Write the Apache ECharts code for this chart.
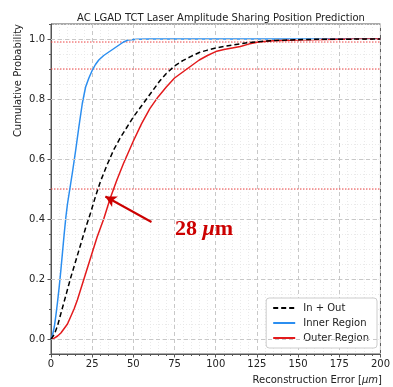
<!DOCTYPE html>
<html><head><meta charset="utf-8">
<script src="https://cdn.jsdelivr.net/npm/echarts@6/dist/echarts.min.js"></script>
<style>html,body{margin:0;padding:0;background:#fff}#c{width:393px;height:387px}</style>
</head><body><div id="c"></div>
<script>
const titleText = 'AC LGAD TCT Laser Amplitude Sharing Position Prediction';
const seriesNames = ['In + Out', 'Inner Region', 'Outer Region'];
const xTicks = [0, 25, 50, 75, 100, 125, 150, 175, 200];
const yTicks = [0, 0.2, 0.4, 0.6, 0.8, 1.0];
const thresholds = [0.5, 0.9, 0.99];

const allX = [0,2,4,6,8,10,12,15,18,21,24,27,30,34,38,42,46,50,54,58,62,66,70,75,80,85,90,95,100,110,120,130,140,160,200];
const allY = [0,0.015,0.045,0.085,0.125,0.165,0.205,0.26,0.315,0.37,0.42,0.475,0.525,0.58,0.63,0.67,0.705,0.74,0.77,0.8,0.83,0.86,0.885,0.91,0.928,0.942,0.955,0.963,0.97,0.98,0.988,0.993,0.996,0.999,1.0];

const innerX = [0,1,2,3,4,5,6,7,8,9,10,11,12,13,15,17,19,21,23,25,27,29,32,36,40,44,47,52,60,80,120,160,200];
const innerY = [0,0.015,0.04,0.08,0.125,0.175,0.23,0.29,0.35,0.405,0.45,0.485,0.52,0.555,0.63,0.71,0.785,0.84,0.87,0.895,0.915,0.93,0.945,0.96,0.975,0.99,0.997,0.999,1.0,1.0,1.0,1.0,1.0];

const outerX = [0,2,4,6,8,10,12,14,16,18,20,22,24,26,28,30,32,34,36,38,40,44,48,50,55,60,65,70,75,80,85,90,95,100,105,110,115,120,126,135,150,175,200];
const outerY = [0,0.003,0.01,0.02,0.035,0.05,0.075,0.1,0.13,0.165,0.2,0.235,0.27,0.305,0.34,0.37,0.4,0.435,0.47,0.5,0.53,0.585,0.635,0.66,0.718,0.768,0.807,0.84,0.87,0.89,0.91,0.93,0.945,0.958,0.965,0.97,0.975,0.983,0.99,0.994,0.997,0.999,1.0];

const annotX = 75, annotY = 0.365;
const arrowFrom = [61, 0.39], arrowTo = [33, 0.475];

const zip = (xs, ys) => xs.map((x, i) => [x, ys[i]]);
const font = 'DejaVu Sans';
const txt = '#222';
const isMajor = v => Math.abs(v / 0.2 - Math.round(v / 0.2)) < 1e-6 && v >= -1e-9;
const gridStyle = {color: '#c8c8c8', type: [4, 3], width: 1};
const thrColor = '#ee4444';

const thrSeries = thresholds.map(v => ({
  name: 'thr' + v, type: 'line', data: [[0, v], [200, v]], z: 2, silent: true,
  showSymbol: false, symbol: 'none', color: thrColor,
  lineStyle: {color: thrColor, type: [1.5, 1.5], width: 1}, emphasis: {disabled: true}
}));

const chart = echarts.init(document.getElementById('c'), null, {renderer: 'canvas'});
chart.setOption({
  animation: false,
  backgroundColor: '#fff',
  textStyle: {fontFamily: font},
  title: {text: titleText, left: 216, top: 8, textAlign: 'center',
    textStyle: {fontFamily: font, fontSize: 10, fontWeight: 'normal', color: txt}},
  grid: {left: 51, right: 11, top: 24, bottom: 33, show: true, borderColor: '#555', borderWidth: 1, backgroundColor: 'transparent'},
  legend: {
    data: seriesNames, orient: 'vertical', right: 16, bottom: 39,
    itemWidth: 22, itemHeight: 10, itemGap: 5, padding: [5, 8, 5, 6],
    itemStyle: {opacity: 0},
    borderColor: '#ccc', borderWidth: 1, borderRadius: 3, backgroundColor: '#fff',
    textStyle: {fontFamily: font, fontSize: 10, color: txt, padding: [0, 0, 0, 3]}
  },
  xAxis: {
    type: 'value', min: 0, max: 200, interval: 25,
    axisLine: {show: true, onZero: false, lineStyle: {color: '#555'}},
    axisTick: {show: true, length: 3.5, lineStyle: {color: '#555'}},
    minorTick: {show: true, splitNumber: 5, length: 2, lineStyle: {color: '#555'}},
    axisLabel: {fontFamily: font, fontSize: 10, color: txt, margin: 5,
      customValues: xTicks},
    splitLine: {show: true, lineStyle: gridStyle},
    minorSplitLine: {show: true, lineStyle: {color: '#e4e4e4', type: [1, 2], width: 0.8}}
  },
  yAxis: [{
    type: 'value', min: -0.05, max: 1.05, interval: 0.05,
    axisLine: {show: true, onZero: false, lineStyle: {color: '#555'}},
    axisTick: {show: true, length: 2, lineStyle: {color: '#555'}},
    axisLabel: {fontFamily: font, fontSize: 10, color: txt, margin: 6,
      formatter: v => isMajor(v) ? v.toFixed(1) : ''},
    splitLine: {show: true, lineStyle: {color: '#e4e4e4', type: [1, 2], width: 0.8}}
  }, {
    type: 'value', min: -0.05, max: 1.05, interval: 0.05, position: 'left',
    axisLine: {show: false},
    axisTick: {show: true, length: 3.5, customValues: yTicks, lineStyle: {color: '#555'}},
    axisLabel: {show: false},
    splitLine: {show: false}
  }],
  graphic: [
    {type: 'text', x: 18, y: 24, rotation: Math.PI / 2,
      style: {text: 'Cumulative Probability', font: '10px "DejaVu Sans"', fill: txt, align: 'right', verticalAlign: 'middle'}},
    {type: 'text', x: 382, y: 380,
      style: {text: '{n|Reconstruction Error [}{i|μm}{n|]}', align: 'right', verticalAlign: 'middle',
        rich: {n: {fontFamily: font, fontSize: 10, fill: txt, color: txt},
               i: {fontFamily: font, fontSize: 10, fontStyle: 'italic', fill: txt, color: txt}}}}
  ],
  series: [
    {name: 'grid', type: 'line', data: [], z: 1, silent: true, color: '#c8c8c8',
      markLine: {silent: true, symbol: ['none', 'none'], label: {show: false},
        itemStyle: {color: '#c8c8c8'}, lineStyle: gridStyle,
        data: yTicks.map(v => ({yAxis: v, lineStyle: gridStyle}))}},
    ...thrSeries,
    {name: seriesNames[0], type: 'line', data: zip(allX, allY), showSymbol: false, symbol: 'none', z: 5,
      color: '#000', lineStyle: {color: '#000', width: 1.5, type: [5, 3]}},
    {name: seriesNames[1], type: 'line', data: zip(innerX, innerY), showSymbol: false, symbol: 'none', z: 4,
      color: '#2b8ef0', lineStyle: {color: '#2b8ef0', width: 1.5}},
    {name: seriesNames[2], type: 'line', data: zip(outerX, outerY), showSymbol: false, symbol: 'none', z: 4,
      color: '#e31a1c', lineStyle: {color: '#e31a1c', width: 1.5},
      markLine: {silent: true, symbol: ['none', 'arrow'], symbolSize: [9, 11], label: {show: false},
        lineStyle: {color: '#cc0000', width: 2, type: 'solid'},
        data: [[{coord: arrowFrom}, {coord: arrowTo}]]},
      markPoint: {silent: true, symbol: 'circle', symbolSize: 1, itemStyle: {color: 'rgba(0,0,0,0)'},
        label: {show: true, position: 'right', distance: 0,
          formatter: '{a|28 }{b|μ}{a|m}',
          rich: {a: {fontFamily: 'Liberation Serif', fontSize: 22, fontWeight: 'bold', color: '#cc0000'},
                 b: {fontFamily: 'Liberation Serif', fontSize: 22, fontWeight: 'bold', fontStyle: 'italic', color: '#cc0000'}}},
        data: [{coord: [annotX, annotY]}]}}
  ]
});
</script></body></html>
